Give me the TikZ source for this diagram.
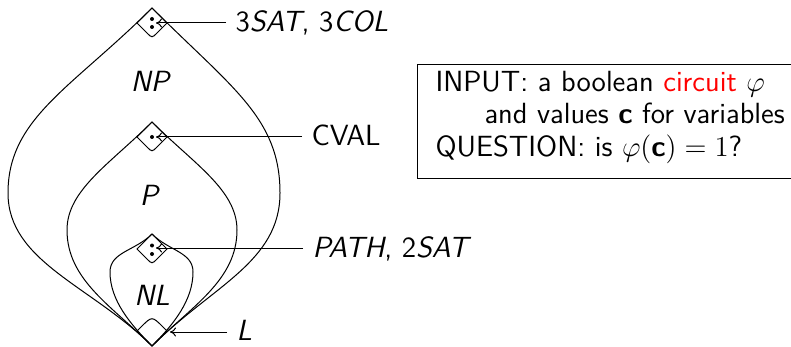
\documentclass[tikz,border=0pt]{standalone}
\usepackage{fontspec}
\renewcommand{\familydefault}{\sfdefault}
\usetikzlibrary{arrows.meta}
\begin{document}
\begin{tikzpicture}[x=0.5pt,y=-0.5pt,line width=0.5pt,
  font=\fontsize{14.6}{17.5}\selectfont,
  lab/.style={anchor=base west,inner xsep=4.5pt,inner ysep=0pt},
  txt/.style={anchor=base west,inner sep=0pt},
  arr/.style={-{To[length=3pt,width=4.5pt]}},
  dot/.style={fill,circle,inner sep=0pt,minimum size=2pt},
  topdiam/.pic={\draw (0,0) -- (-15,15) -- (-5,25) .. controls (0,30) .. (5,25) -- (15,15) -- cycle;}]
\useasboundingbox (0,0) rectangle (791,347);
% NP
\draw (152,8) .. controls (72,88) and (8,118) .. (8,193) .. controls (8,262) and (92,286) .. (152,346);
\draw (152,8) .. controls (232,88) and (280,118) .. (280,193) .. controls (280,262) and (212,286) .. (152,346);
% P
\draw (152,122) .. controls (110,164) and (67,190) .. (67,230) .. controls (67,280) and (112,306) .. (152,346);
\draw (152,122) .. controls (194,164) and (237,190) .. (237,230) .. controls (237,280) and (192,306) .. (152,346);
% NL
\draw (152,234) .. controls (135,251) and (110,252) .. (110,272) .. controls (110,300) and (130,324) .. (152,346);
\draw (152,234) .. controls (169,251) and (193,252) .. (193,272) .. controls (193,300) and (174,324) .. (152,346);
% diamonds
\pic at (152,8) {topdiam};
\pic at (152,122) {topdiam};
\pic at (152,234) {topdiam};
\draw (152,346) -- (137,331) -- (141,327) .. controls (152,316) .. (163,327) -- (167,331) -- cycle;
% dots
\node[dot] (d1) at (152,19) {};
\node[dot] (d2) at (152,27) {};
\node[dot] (d3) at (152,137) {};
\node[dot] (d4) at (152,245.5) {};
\node[dot] (d5) at (152,254) {};
% class names
\node (np) at (151,81) {\textit{NP}};
\node (p) at (150,195) {\textit{P}};
\node (nl) at (152,295) {\textit{NL}};
% arrow targets
\coordinate (tnp) at (156,23);
\coordinate (tp) at (156,137);
\coordinate (tnl) at (156,248);
\coordinate (tl) at (170,332);
% labels
\node[lab] (l1) at (226,32) {3\textit{SAT}, 3\textit{COL}};
\node[lab] (l2) at (302,145.5) {CVAL};
\node[lab] (l3) at (303,257.5) {\textit{PATH}, 2\textit{SAT}};
\node[lab] (l4) at (227,340) {\textit{L}};
\draw[arr] (l1.west |- tnp) -- (tnp);
\draw[arr] (l2.west |- tp) -- (tp);
\draw[arr] (l3.west |- tnl) -- (tnl);
\draw[arr] (l4.west |- tl) -- (tl);
% box
\node[draw,line width=0.6pt,anchor=north west,minimum width=210pt,minimum height=57pt,inner sep=0pt] (box) at (417,64) {};
\node[txt] (q1) at (435,91.7) {INPUT: a boolean \textcolor{red}{circuit} $\varphi$};
\node[txt] (q2) at (484,123.3) {and values \textbf{c} for variables};
\node[txt] (q3) at (435,156.7) {QUESTION: is $\varphi(\textbf{c}) = 1$?};
\end{tikzpicture}
\end{document}
